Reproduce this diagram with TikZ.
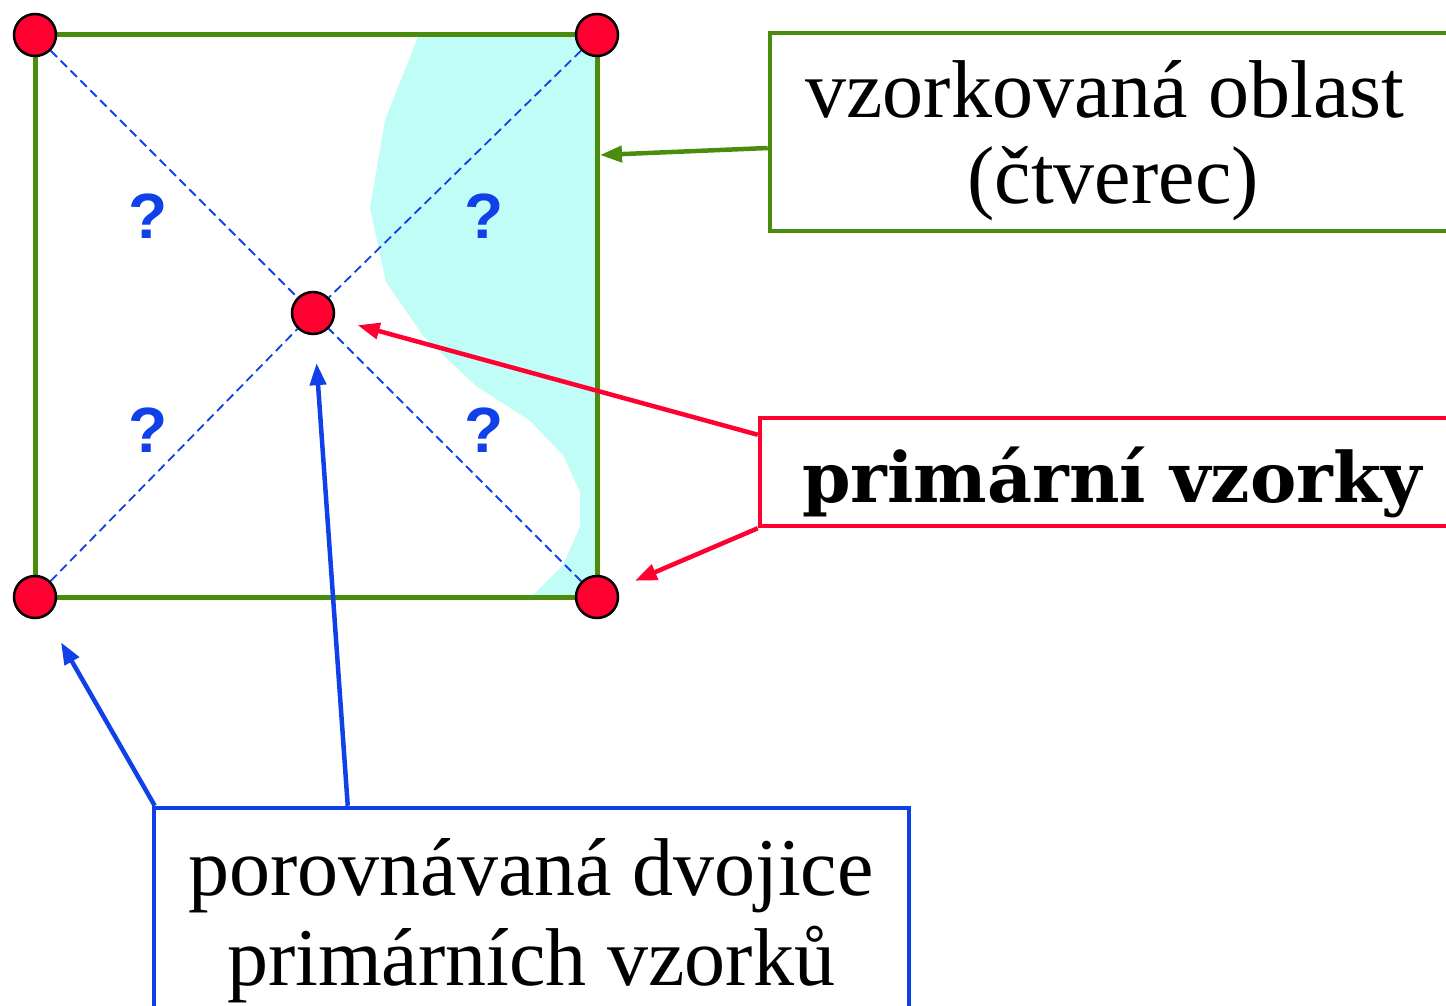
\documentclass[tikz,border=0pt]{standalone}
\usepackage{fontspec}
\setmainfont{Liberation Serif}
\newfontfamily\boldserif{DejaVu Serif}
\newfontfamily\qsans{Liberation Sans}
\usetikzlibrary{arrows.meta}
\definecolor{sqgreen}{RGB}{74,140,12}
\definecolor{ptred}{RGB}{255,0,48}
\definecolor{lnblue}{RGB}{16,64,232}
\definecolor{areacyan}{RGB}{192,253,247}
\begin{document}
\begin{tikzpicture}[x=1pt,y=-1pt,
  sample/.style={circle,draw=black,line width=2.5pt,fill=ptred,minimum size=42pt,inner sep=0pt},
  diag/.style={lnblue,line width=1.8pt,dash pattern=on 9pt off 5pt},
  qmark/.style={text=lnblue,inner sep=0pt,font=\qsans\bfseries\fontsize{64}{64}\selectfont},
  callout/.style={line width=4.5pt,fill=white,inner sep=0pt},
  pointer/.style={line width=4.5pt,-{Triangle[length=22pt,width=16pt]}},
  lbl/.style={font=\fontsize{82}{86}\selectfont,anchor=base,inner sep=0pt},
  lblbold/.style={font=\boldserif\bfseries\fontsize{69.5}{80}\selectfont,anchor=base,inner sep=0pt}]

\useasboundingbox (0,0) rectangle (1446,1006);
\clip (0,0) rectangle (1446,1006);

% sampled area (cyan)
\fill[areacyan] (418,37) -- (385,120) -- (370,208) -- (386,282) -- (424,337)
  -- (476,386) -- (529,420) -- (563,455) -- (580,492) -- (580,527)
  -- (563,565) -- (533,595) -- (597,595) -- (597,35) -- cycle;

% square
\coordinate (p1) at (35,35);
\coordinate (p2) at (597,35);
\coordinate (p3) at (597,597);
\coordinate (p4) at (35,597);
\coordinate (pm) at (313,313);
\coordinate (edge) at (600,155);
\draw[sqgreen,line width=5pt] (p1) rectangle (p3);

% samples
\node[sample] (c1) at (p1) {};
\node[sample] (c2) at (p2) {};
\node[sample] (c3) at (p3) {};
\node[sample] (c4) at (p4) {};
\node[sample] (c5) at (pm) {};

% compared pairs
\draw[diag] (c1) -- (c5);
\draw[diag] (c2) -- (c5);
\draw[diag] (c3) -- (c5);
\draw[diag] (c4) -- (c5);

\node[qmark] (q1) at (148,216) {?};
\node[qmark] (q2) at (484,216) {?};
\node[qmark] (q3) at (148,430) {?};
\node[qmark] (q4) at (484,430) {?};

% callout boxes
\node[callout,draw=sqgreen,minimum width=680pt,minimum height=198pt] (gbox) at (1110,132) {};
\node[callout,draw=ptred,minimum width=704pt,minimum height=108pt] (rbox) at (1112,472) {};
\node[callout,draw=lnblue,minimum width=755pt,minimum height=208pt] (bbox) at (531.5,912) {};

% pointers
\draw[pointer,sqgreen] ([yshift=-16pt]gbox.west) -- (edge);
\draw[pointer,ptred,shorten >=24pt] ([yshift=-19pt]rbox.north west) -- (c5);
\draw[pointer,ptred,shorten >=19pt] (rbox.south west) -- (c3);
\draw[pointer,lnblue,shorten >=30pt] ([xshift=3pt]bbox.north west) -- (c4);
\draw[pointer,lnblue,shorten >=28pt] ([xshift=196pt]bbox.north west) -- (c5);

% texts
\node[lbl] (gt1) at (1105,118) {vzorkovaná oblast};
\node[lbl] (gt2) at (1113,204) {(čtverec)};
\node[lblbold] (rt) at (1112,502) {primární vzorky};
\node[lbl] (bt1) at (531,895) {porovnávaná dvojice};
\node[lbl] (bt2) at (531,985) {primárních vzorků};
\end{tikzpicture}
\end{document}
